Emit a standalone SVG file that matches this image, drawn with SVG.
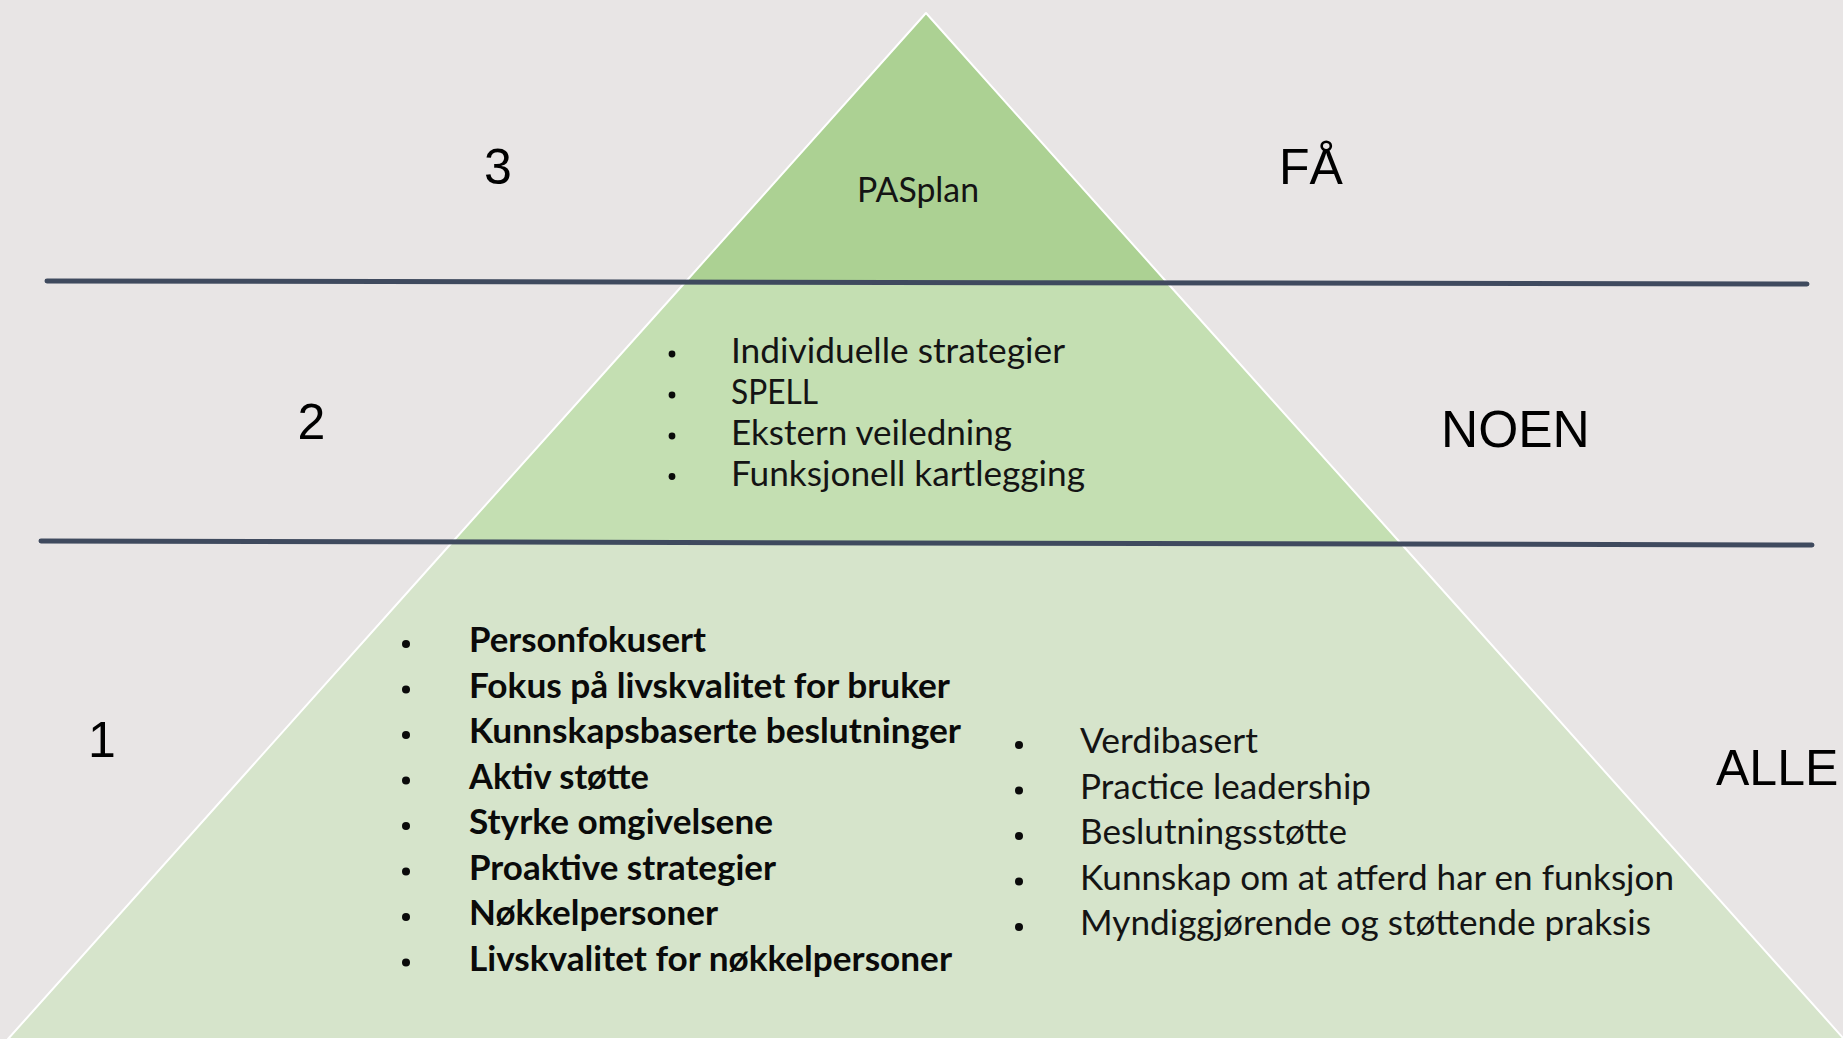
<svg xmlns="http://www.w3.org/2000/svg" width="1843" height="1039" viewBox="0 0 1843 1039">
<style>
.lbl{font-family:"Liberation Sans",Arial,sans-serif;font-size:50px;fill:#000}
.t{font-family:Lato,"Open Sans",sans-serif;font-size:34px;fill:#141414}
.b{font-family:Lato,"Open Sans",sans-serif;font-size:34px;font-weight:bold;fill:#0a0a0a}
.sec{stroke:#ffffff;stroke-width:2;stroke-linejoin:round}
.div{stroke:#3f4a5e;stroke-width:5;stroke-linecap:round;fill:none}
.dot{fill:#0a0a0a}
</style>
<rect x="0" y="0" width="1843" height="1039" fill="#e8e5e5"/>
<g id="pyramid">
  <g id="level3"><polygon class="sec" fill="#acd193" points="926,13 1167,282.5 685,282.5"/></g>
  <g id="level2"><polygon class="sec" fill="#c4dfb2" points="685,282.5 1167,282.5 1400.5,543 451.5,543"/></g>
  <g id="level1"><polygon class="sec" fill="#d6e4cb" points="451.5,543 1400.5,543 1844,1039 8,1039"/></g>
</g>
<g id="dividers">
  <line class="div" x1="47" y1="281" x2="1807" y2="284"/>
  <line class="div" x1="41" y1="541" x2="1812" y2="545"/>
</g>
<g id="labels-left">
  <text class="lbl" x="498" y="184" text-anchor="middle">3</text>
  <text class="lbl" x="311.5" y="439" text-anchor="middle">2</text>
  <text class="lbl" x="88" y="757">1</text>
</g>
<g id="labels-right">
  <text class="lbl" x="1279" y="184">FÅ</text>
  <text class="lbl" x="1441" y="447" style="font-size:51.5px">NOEN</text>
  <text class="lbl" x="1716" y="785">ALLE</text>
</g>
<g id="node-pasplan">
  <text class="t" x="857" y="202" textLength="122" lengthAdjust="spacingAndGlyphs">PASplan</text>
</g>
<g id="node-level2-list">
  <circle class="dot" cx="672" cy="354" r="3.4"/>
  <circle class="dot" cx="672" cy="395" r="3.4"/>
  <circle class="dot" cx="672" cy="436" r="3.4"/>
  <circle class="dot" cx="672" cy="476.5" r="3.4"/>
  <text class="t" x="731" y="363" textLength="334" lengthAdjust="spacingAndGlyphs">Individuelle strategier</text>
  <text class="t" x="731" y="404" textLength="87" lengthAdjust="spacingAndGlyphs">SPELL</text>
  <text class="t" x="731" y="444.6" textLength="281" lengthAdjust="spacingAndGlyphs">Ekstern veiledning</text>
  <text class="t" x="731" y="485.5" textLength="354" lengthAdjust="spacingAndGlyphs">Funksjonell kartlegging</text>
</g>
<g id="node-level1-list-a">
  <circle class="dot" cx="406" cy="644" r="4"/>
  <circle class="dot" cx="406" cy="689.5" r="4"/>
  <circle class="dot" cx="406" cy="735" r="4"/>
  <circle class="dot" cx="406" cy="780.5" r="4"/>
  <circle class="dot" cx="406" cy="826" r="4"/>
  <circle class="dot" cx="406" cy="871.5" r="4"/>
  <circle class="dot" cx="406" cy="917" r="4"/>
  <circle class="dot" cx="406" cy="962.5" r="4"/>
  <text class="b" x="469" y="652" textLength="237" lengthAdjust="spacingAndGlyphs">Personfokusert</text>
  <text class="b" x="469" y="697.5" textLength="481" lengthAdjust="spacingAndGlyphs">Fokus på livskvalitet for bruker</text>
  <text class="b" x="469" y="743" textLength="492" lengthAdjust="spacingAndGlyphs">Kunnskapsbaserte beslutninger</text>
  <text class="b" x="469" y="788.5" textLength="180" lengthAdjust="spacingAndGlyphs">Aktiv støtte</text>
  <text class="b" x="469" y="834" textLength="304" lengthAdjust="spacingAndGlyphs">Styrke omgivelsene</text>
  <text class="b" x="469" y="879.5" textLength="307" lengthAdjust="spacingAndGlyphs">Proaktive strategier</text>
  <text class="b" x="469" y="925" textLength="249" lengthAdjust="spacingAndGlyphs">Nøkkelpersoner</text>
  <text class="b" x="469" y="970.5" textLength="483" lengthAdjust="spacingAndGlyphs">Livskvalitet for nøkkelpersoner</text>
</g>
<g id="node-level1-list-b">
  <circle class="dot" cx="1019" cy="745" r="4"/>
  <circle class="dot" cx="1019" cy="790.5" r="4"/>
  <circle class="dot" cx="1019" cy="836" r="4"/>
  <circle class="dot" cx="1019" cy="881.5" r="4"/>
  <circle class="dot" cx="1019" cy="927" r="4"/>
  <text class="t" x="1080" y="753" textLength="178" lengthAdjust="spacingAndGlyphs">Verdibasert</text>
  <text class="t" x="1080" y="798.5" textLength="291" lengthAdjust="spacingAndGlyphs">Practice leadership</text>
  <text class="t" x="1080" y="844" textLength="267" lengthAdjust="spacingAndGlyphs">Beslutningsstøtte</text>
  <text class="t" x="1080" y="889.5" textLength="594" lengthAdjust="spacingAndGlyphs">Kunnskap om at atferd har en funksjon</text>
  <text class="t" x="1080" y="935" textLength="571" lengthAdjust="spacingAndGlyphs">Myndiggjørende og støttende praksis</text>
</g>
</svg>
